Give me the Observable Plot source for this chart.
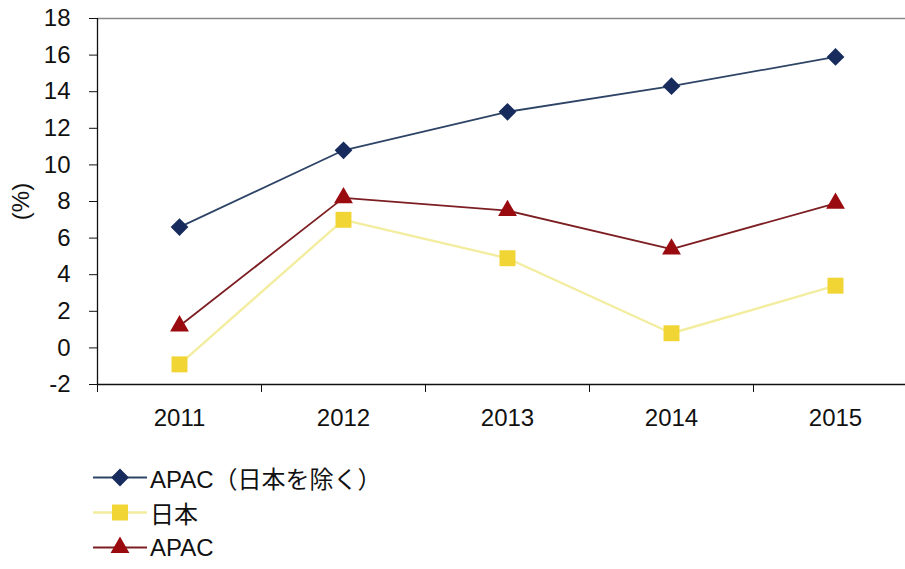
<!DOCTYPE html>
<html>
<head>
<meta charset="utf-8">
<script src="https://cdn.jsdelivr.net/npm/d3@7"></script>
<script src="https://cdn.jsdelivr.net/npm/@observablehq/plot@0.6"></script>
<style>
  html, body { margin: 0; padding: 0; background: #fff; }
  body { width: 905px; height: 569px; overflow: hidden; font-family: "Liberation Sans", "Noto Sans CJK JP", sans-serif; color: #111; }
  #legend { padding-top: 20px; margin-left: 90px; }
  .row { display: flex; align-items: center; height: 35px; font-size: 24px; }
  .row svg { display: block; margin-right: 2px; }
</style>
</head>
<body>
<div id="chart"></div>
<div id="legend"></div>
<script>
// Growth rate by year (%)
const years = [2011, 2012, 2013, 2014, 2015];
const apacExJapan = [6.6, 10.8, 12.9, 14.3, 15.9];
const japan = [-0.9, 7.0, 4.9, 0.8, 3.4];
const apac = [1.2, 8.2, 7.5, 5.4, 7.9];

const seriesNames = ["APAC（日本を除く）", "日本", "APAC"];
const yTicks = [-2, 0, 2, 4, 6, 8, 10, 12, 14, 16, 18];
const yLabel = "(%)";

const series = [
  {name: seriesNames[0], values: apacExJapan, line: "#2e4466", mark: "#172c5c", symbol: "diamond2", r: 8, lineWidth: 1.8},
  {name: seriesNames[1], values: japan, line: "#f3eda0", mark: "#f0d535", symbol: "square", r: 9, lineWidth: 2.4},
  {name: seriesNames[2], values: apac, line: "#7c1e22", mark: "#9a0b10", symbol: "triangle", r: 7, lineWidth: 1.8}
];

const toRows = s => years.map((year, i) => ({year, value: s.values[i]}));

// Category boundaries for the tick marks between years
const bounds = [years[0] - 0.5, ...years.map(y => y + 0.5)];

const chart = Plot.plot({
  width: 905,
  height: 440,
  marginLeft: 97,
  marginRight: -12,
  marginTop: 18,
  marginBottom: 56,
  style: {fontFamily: "'Liberation Sans', 'Noto Sans CJK JP', sans-serif", fontSize: "24px", color: "#111", background: "#fff"},
  x: {type: "linear", domain: [bounds[0], bounds[bounds.length - 1]]},
  y: {domain: [yTicks[0], yTicks[yTicks.length - 1]]},
  marks: [
    Plot.ruleY([yTicks[yTicks.length - 1]], {stroke: "#8a8a8a", strokeWidth: 1.5}),
    Plot.axisY({ticks: yTicks, tickSize: 8, tickPadding: 19, tickFormat: d => String(d), label: yLabel, labelAnchor: "center", labelArrow: "none", labelOffset: 86}),
    Plot.axisX({ticks: bounds, tickSize: 8, tickFormat: () => "", label: null}),
    Plot.axisX({ticks: years, tickSize: 0, tickPadding: 24, tickFormat: d => String(d), label: null}),
    Plot.ruleX([bounds[0]], {stroke: "#111", strokeWidth: 1.3}),
    Plot.ruleY([yTicks[0]], {stroke: "#111", strokeWidth: 1.5}),
    ...series.map(s => Plot.line(toRows(s), {x: "year", y: "value", stroke: s.line, strokeWidth: s.lineWidth})),
    ...series.map(s => Plot.dot(toRows(s), {x: "year", y: "value", symbol: s.symbol, r: s.r, fill: s.mark, stroke: "none"}))
  ]
});
document.getElementById("chart").append(chart);

// Legend rows: line segment with marker, then series name
const legend = d3.select("#legend");
for (const s of series) {
  const row = legend.append("div").attr("class", "row");
  const svg = row.append("svg").attr("width", 58).attr("height", 35);
  svg.append("line").attr("x1", 3).attr("x2", 57).attr("y1", 17.5).attr("y2", 17.5)
    .attr("stroke", s.line).attr("stroke-width", s.lineWidth);
  const type = {diamond2: d3.symbolDiamond2, square: d3.symbolSquare, triangle: d3.symbolTriangle}[s.symbol];
  svg.append("path").attr("transform", "translate(30,17.5)")
    .attr("d", d3.symbol(type, Math.PI * s.r * s.r)()).attr("fill", s.mark);
  row.append("span").text(s.name);
}
</script>
</body>
</html>
